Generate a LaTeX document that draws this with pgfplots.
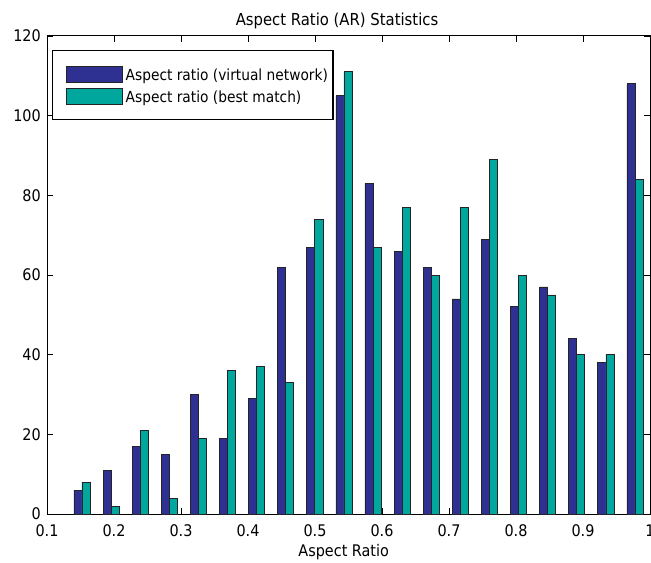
\documentclass[border=0pt]{standalone}
\usepackage{fontspec}
\setmainfont{DejaVu Sans Condensed}
\usepackage{pgfplots}
\pgfplotsset{compat=1.18}
\definecolor{barblue}{RGB}{46,49,146}
\definecolor{barteal}{RGB}{0,167,157}
\definecolor{baredge}{RGB}{35,35,40}
\begin{document}
\begin{tikzpicture}[font=\fontsize{16bp}{19bp}\selectfont]
\begin{axis}[
  scale only axis,
  width=603bp, height=478bp,
  xmin=0.1, xmax=1, ymin=0, ymax=120,
  xtick={0.1,0.2,0.3,0.4,0.5,0.6,0.7,0.8,0.9,1},
  ytick={0,20,40,60,80,100,120},
  /pgf/number format/assume math mode=true,
  tick align=inside,
  major tick length=6bp,
  tick style={black, line width=0.7bp},
  axis line style={black, line width=1bp},
  xticklabel style={anchor=base, inner sep=0pt, yshift=-22bp},
  yticklabel style={anchor=east, inner sep=0pt, xshift=-6bp},
  title={Aspect Ratio (AR) Statistics},
  title style={at={(axis description cs:0.481,1)}, anchor=base, inner sep=0pt, yshift=5bp, font=\fontsize{16.5bp}{19bp}\selectfont},
  xlabel={Aspect Ratio},
  xlabel style={at={(axis description cs:0.492,0)}, anchor=base, inner sep=0pt, yshift=-42.7bp},
  legend cell align=left,
  legend image code/.code={\path[draw=none,fill=none] (0bp,0bp) -- (9bp,0bp); \draw[#1] (9bp,-6.6bp) rectangle (65bp,9.4bp);},
  legend style={at={(axis description cs:0.0078,0.9707)}, anchor=north west,
    draw=black, line width=1.2bp, inner xsep=5bp, inner ysep=15bp,
    font=\fontsize{15.3bp}{18bp}\selectfont,
    row sep=5.4bp,
    nodes={inner sep=0pt},
    /tikz/every odd column/.append style={column sep=3bp}},
]
\addplot[ybar, bar width=0.012, bar shift=-0.006, fill=barblue, draw=baredge, line width=0.8bp] coordinates {
(0.1522,6) (0.1957,11) (0.2391,17) (0.2826,15) (0.3260,30) (0.3694,19) (0.4129,29) (0.4563,62) (0.4998,67) (0.5432,105)
(0.5866,83) (0.6301,66) (0.6735,62) (0.7170,54) (0.7604,69) (0.8038,52) (0.8473,57) (0.8907,44) (0.9342,38) (0.9776,108)};
\addlegendentry{Aspect ratio (virtual network)}
\addplot[ybar, bar width=0.012, bar shift=0.006, fill=barteal, draw=baredge, line width=0.8bp] coordinates {
(0.1522,8) (0.1957,2) (0.2391,21) (0.2826,4) (0.3260,19) (0.3694,36) (0.4129,37) (0.4563,33) (0.4998,74) (0.5432,111)
(0.5866,67) (0.6301,77) (0.6735,60) (0.7170,77) (0.7604,89) (0.8038,60) (0.8473,55) (0.8907,40) (0.9342,40) (0.9776,84)};
\addlegendentry{Aspect ratio (best match)}
\end{axis}
\pgfresetboundingbox
\path[use as bounding box] (current axis.south west) ++(-47bp,-48bp) rectangle ([xshift=1bp,yshift=36bp]current axis.north east);
\end{tikzpicture}
\end{document}
